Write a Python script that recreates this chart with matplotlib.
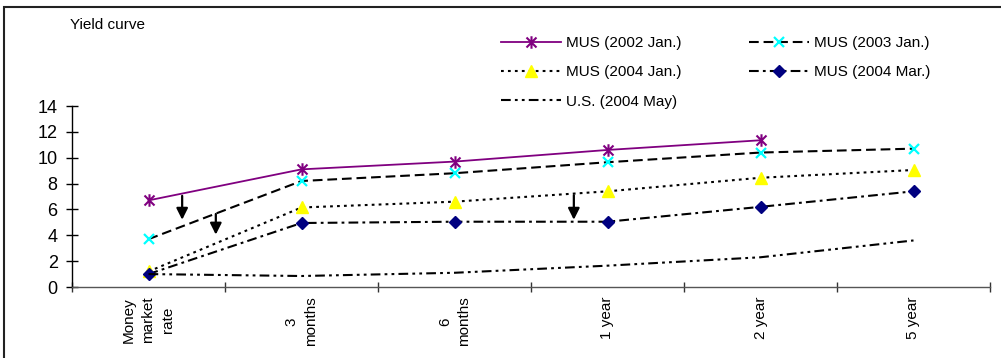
import numpy as np
import matplotlib
matplotlib.use('Agg')
import matplotlib.pyplot as plt
from matplotlib.patches import Rectangle
from matplotlib.path import Path

plt.rcParams['font.family'] = ['Liberation Sans', 'DejaVu Sans']
plt.rcParams['lines.scale_dashes'] = False

# maturities along the curve
maturities = ['Money\nmarket\nrate', '3\nmonths', '6\nmonths', '1 year', '2 year', '5 year']

# yields (%) for each date
mus_2002_jan = [6.7, 9.1, 9.7, 10.6, 11.35, np.nan]
mus_2003_jan = [3.7, 8.2, 8.8, 9.65, 10.4, 10.7]
mus_2004_jan = [1.2, 6.15, 6.6, 7.4, 8.45, 9.05]
mus_2004_mar = [1.0, 4.95, 5.05, 5.05, 6.2, 7.4]
us_2004_may = [1.0, 0.85, 1.1, 1.65, 2.3, 3.6]

# down arrows marking the fall in rates: (x, y_from, y_to)
arrows = [(0.22, 7.05, 5.2), (0.44, 5.65, 4.05), (2.78, 7.1, 5.2)]

# star marker: an X with a vertical stroke through it
star = Path([(0, -1), (0, 1), (-0.8, -0.8), (0.8, 0.8), (-0.8, 0.8), (0.8, -0.8)],
            [Path.MOVETO, Path.LINETO, Path.MOVETO, Path.LINETO, Path.MOVETO, Path.LINETO])

fig = plt.figure(figsize=(10.01, 3.58), dpi=100)
ax = fig.add_axes([72 / 1001, 1 - 287 / 358, (990 - 72) / 1001, (287 - 106) / 358])

x = np.arange(len(maturities))
l1, = ax.plot(x, mus_2002_jan, color='#800080', lw=1.3, marker=star, ms=9, mew=1.5,
              label='MUS (2002 Jan.)')
l2, = ax.plot(x, mus_2003_jan, color='black', lw=1.5, ls=(0, (7, 3.5)), marker='x', ms=7,
              mew=1.6, mec='#00ffff', label='MUS (2003 Jan.)')
l3, = ax.plot(x, mus_2004_jan, color='black', lw=1.5, ls=(0, (2, 3)), marker='^', ms=9,
              mfc='#ffff00', mec='#ffff00', label='MUS (2004 Jan.)')
l4, = ax.plot(x, mus_2004_mar, color='black', lw=1.5, ls=(0, (7, 3, 2, 3)), marker='D', ms=6,
              mfc='#000080', mec='#000080', label='MUS (2004 Mar.)')
l5, = ax.plot(x, us_2004_may, color='black', lw=1.5, ls=(0, (7, 3, 2, 3, 2, 3)),
              label='U.S. (2004 May)')

for ax_x, y0, y1 in arrows:
    ax.annotate('', xy=(ax_x, y1), xytext=(ax_x, y0),
                arrowprops=dict(arrowstyle='-|>', color='black', lw=1.6,
                                mutation_scale=17, shrinkA=0, shrinkB=0))

ax.set_xlim(-0.5, len(maturities) - 0.5)
ax.set_ylim(0, 14)
ax.set_yticks(range(0, 15, 2))
ax.set_xticks(np.arange(-0.5, len(maturities), 1))
ax.set_xticklabels([])
ax.set_xticks(x, minor=True)
ax.set_xticklabels(maturities, minor=True, rotation=90, fontsize=11,
                   va='top', ha='center', multialignment='center', linespacing=1.5)
ax.tick_params(axis='x', which='major', direction='inout', length=7, width=1, color='#333333')
ax.tick_params(axis='x', which='minor', length=0, pad=7)
ax.tick_params(axis='y', direction='inout', length=8.6, width=1, labelsize=13, pad=6)

for side in ['top', 'right']:
    ax.spines[side].set_visible(False)
ax.spines['left'].set_linewidth(1)
ax.spines['bottom'].set_color('#555555')
ax.spines['bottom'].set_linewidth(1)

# legend reads row by row: order handles column by column
ax.legend([l1, l3, l5, l2, l4], [h.get_label() for h in (l1, l3, l5, l2, l4)],
          ncol=2, loc='upper left', bbox_to_anchor=(501 / 1001, 1 - 36 / 358),
          bbox_transform=fig.transFigure, frameon=False, fontsize=11,
          handlelength=3.9, handletextpad=0.35, columnspacing=4.45,
          labelspacing=1.0, borderpad=0, borderaxespad=0)

fig.text(70 / 1001, 1 - 29 / 358, 'Yield curve', fontsize=11, va='baseline')

# chart border
fig.add_artist(Rectangle((4 / 1001, -0.1), 1.2, 1.1 - 7 / 358, transform=fig.transFigure,
                         fill=False, lw=1.5, edgecolor='#222222', clip_on=False))

fig.savefig('out.png', dpi=100)
